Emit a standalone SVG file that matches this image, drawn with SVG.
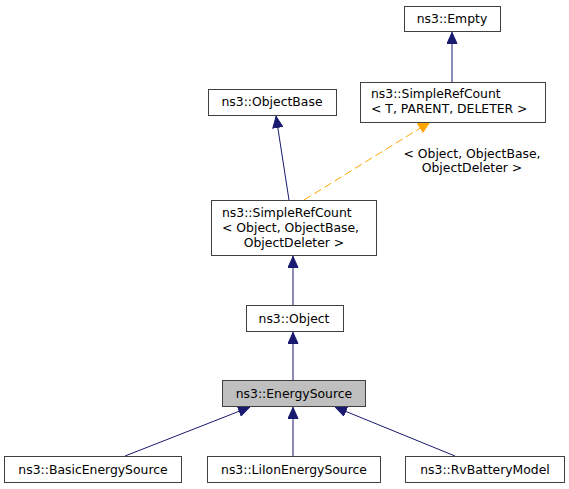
<svg xmlns="http://www.w3.org/2000/svg" width="569" height="489" viewBox="0 0 569 489">
<defs>
<style>
.n rect{fill:#ffffff;stroke:#404040;stroke-width:1}
.n.hl rect{fill:#bfbfbf}
text{font-family:"DejaVu Sans","Liberation Sans",sans-serif;font-size:12.4px;fill:#000}
.e{stroke:#191970;stroke-width:1;fill:none;marker-end:url(#ab)}
.d{stroke:#ffa500;stroke-width:1;fill:none;stroke-dasharray:8,4;marker-end:url(#ao)}
</style>
<marker id="ab" markerUnits="userSpaceOnUse" markerWidth="12" markerHeight="11" refX="12" refY="5.5" orient="auto"><path d="M0.5,0.5 L11.5,5.5 L0.5,10.5 z" fill="#191970" stroke="#191970"/></marker>
<marker id="ao" markerUnits="userSpaceOnUse" markerWidth="12" markerHeight="11" refX="12" refY="5.5" orient="auto"><path d="M0.5,0.5 L11.5,5.5 L0.5,10.5 z" fill="#ffa500" stroke="#ffa500"/></marker>
</defs>
<rect width="569" height="489" fill="#ffffff"/>
<g id="edges">
<path class="e" d="M452,82 L452,32"/>
<path class="e" d="M289,200 L276,116"/>
<path class="d" d="M304,200 L430,122"/>
<text x="472" y="158" text-anchor="middle">&lt; Object, ObjectBase,</text>
<text x="472" y="172" text-anchor="middle">ObjectDeleter &gt;</text>
<path class="e" d="M293,305 L293,256"/>
<path class="e" d="M293,380 L293,332"/>
<path class="e" d="M125,456 L250,407"/>
<path class="e" d="M293,456 L293,407"/>
<path class="e" d="M455,456 L335,407"/>
</g>
<g id="empty" class="n"><rect x="404.5" y="6.5" width="96" height="25"/><text x="452" y="23" text-anchor="middle">ns3::Empty</text></g>
<g id="srcT" class="n"><rect x="360.5" y="82.5" width="185" height="40"/><text x="371" y="98">ns3::SimpleRefCount</text><text x="371" y="113">&lt; T, PARENT, DELETER &gt;</text></g>
<g id="objectbase" class="n"><rect x="208.5" y="89.5" width="128" height="26"/><text x="272" y="106" text-anchor="middle">ns3::ObjectBase</text></g>
<g id="srcObj" class="n"><rect x="211.5" y="200.5" width="165" height="55"/><text x="222" y="217">ns3::SimpleRefCount</text><text x="222" y="232">&lt; Object, ObjectBase,</text><text x="294" y="247" text-anchor="middle">ObjectDeleter &gt;</text></g>
<g id="object" class="n"><rect x="246.5" y="305.5" width="97" height="26"/><text x="294" y="323" text-anchor="middle">ns3::Object</text></g>
<g id="energysource" class="n hl"><rect x="222.5" y="380.5" width="143" height="26"/><text x="294" y="398" text-anchor="middle">ns3::EnergySource</text></g>
<g id="basic" class="n"><rect x="4.5" y="456.5" width="177" height="26"/><text x="93" y="474" text-anchor="middle">ns3::BasicEnergySource</text></g>
<g id="liion" class="n"><rect x="207.5" y="456.5" width="173" height="26"/><text x="294" y="474" text-anchor="middle">ns3::LiIonEnergySource</text></g>
<g id="rv" class="n"><rect x="405.5" y="456.5" width="159" height="26"/><text x="485" y="474" text-anchor="middle">ns3::RvBatteryModel</text></g>
</svg>
